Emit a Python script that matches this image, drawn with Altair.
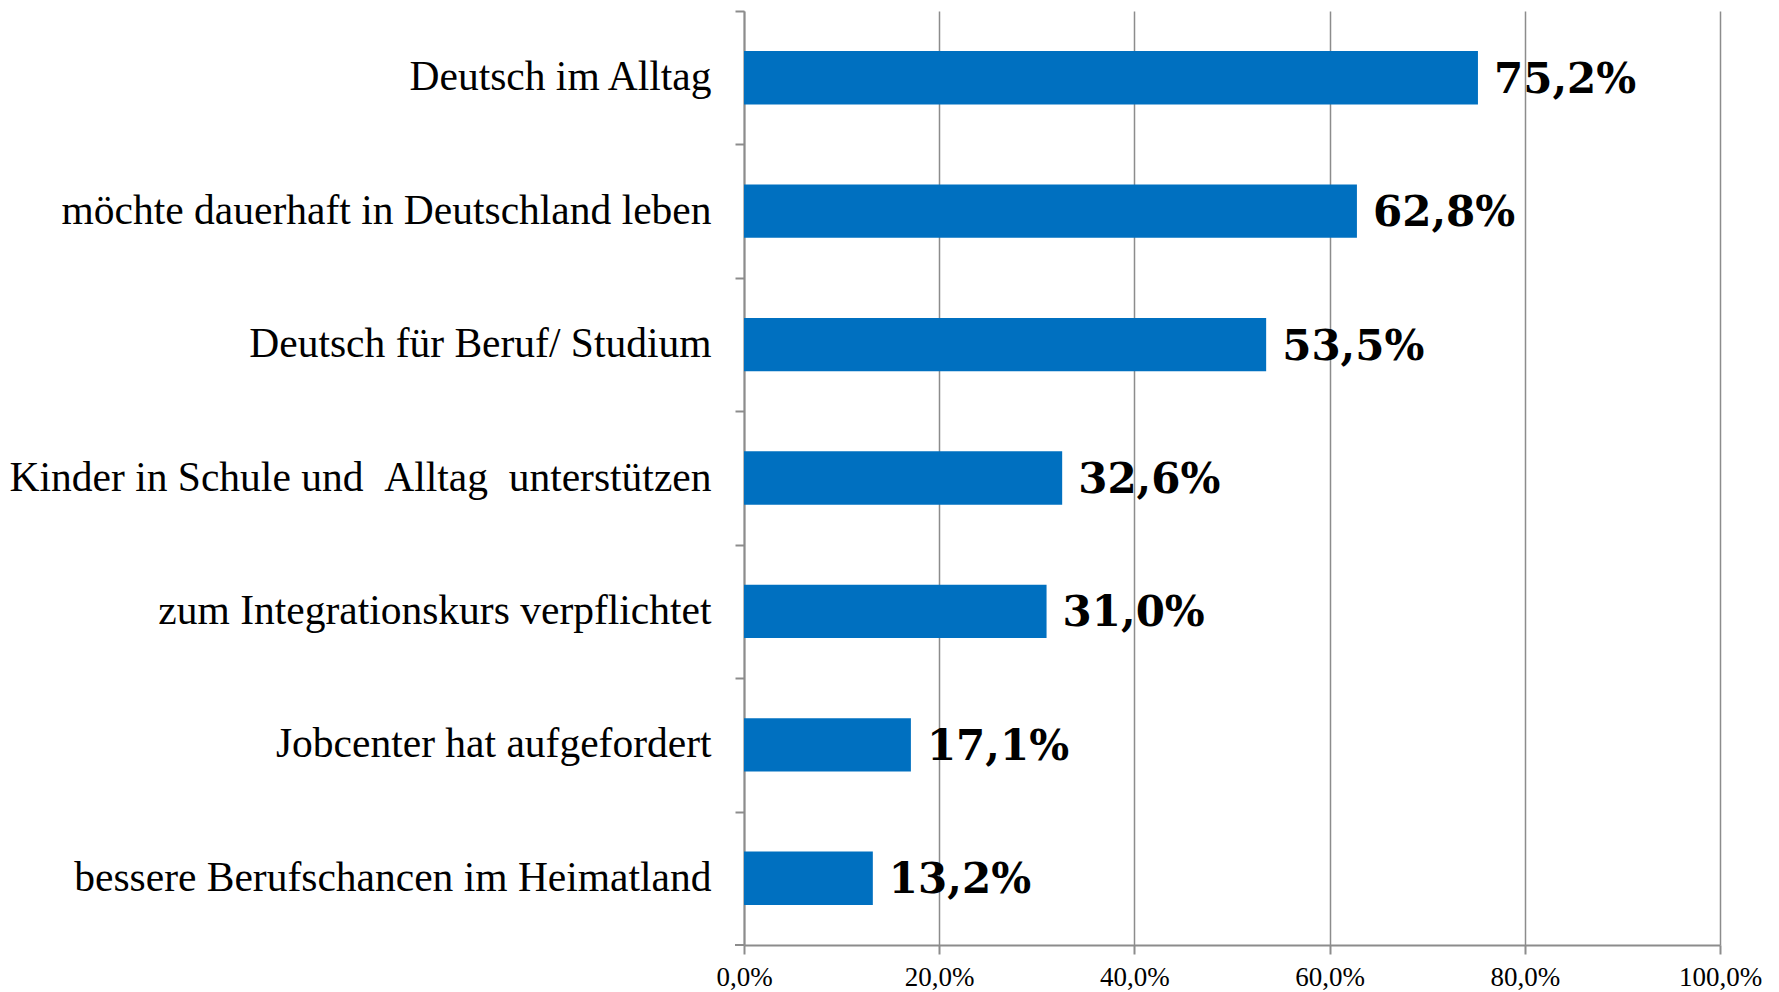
import altair as alt
import pandas as pd

categories = [
    "Deutsch im Alltag\u00a0",
    "möchte dauerhaft in Deutschland leben",
    "Deutsch für Beruf/ Studium",
    "Kinder in Schule und \u00a0Alltag \u00a0unterstützen\u00a0",
    "zum Integrationskurs verpflichtet",
    "Jobcenter hat aufgefordert\u00a0",
    "bessere Berufschancen im Heimatland\u00a0",
]
values = [75.2, 62.8, 53.5, 32.6, 31.0, 17.1, 13.2]
value_labels = ["75,2%", "62,8%", "53,5%", "32,6%", "31,0%", "17,1%", "13,2%"]
x_ticks = [0, 20, 40, 60, 80, 100]

df = pd.DataFrame({"cat": categories, "val": values, "lab": value_labels})

W, H = 976, 934
STEP = H / len(categories)
GRID = "#8c8c8c"

y_enc = alt.Y(
    "cat:N",
    sort=categories,
    scale=alt.Scale(paddingInner=0.6, paddingOuter=0.3),
    axis=alt.Axis(
        title=None,
        tickOffset=-STEP / 2,
        labelOffset=STEP / 2,
        tickSize=9,
        tickColor=GRID,
        tickWidth=2,
        domainColor=GRID,
        domainWidth=2,
        labelFont="Liberation Serif",
        labelFontSize=41.5,
        labelColor="#000000",
        labelPadding=24,
        labelLimit=0,
        grid=False,
    ),
)

x_enc = alt.X(
    "val:Q",
    scale=alt.Scale(domain=[0, 100], nice=False),
    axis=alt.Axis(
        title=None,
        values=x_ticks,
        labelExpr="replace(format(datum.value, '.1f'), '.', ',') + '%'",
        labelFont="Liberation Serif",
        labelFontSize=27,
        labelColor="#000000",
        labelPadding=10,
        labelFlush=False,
        tickSize=9,
        tickColor=GRID,
        tickWidth=2,
        domainColor=GRID,
        domainWidth=2,
        grid=True,
        gridColor=GRID,
        gridWidth=1.5,
    ),
)

bars = alt.Chart(df).mark_bar(color="#0070C0").encode(x=x_enc, y=y_enc)

text = alt.Chart(df).mark_text(
    align="left",
    baseline="middle",
    dx=16,
    dy=2,
    font="DejaVu Serif",
    fontWeight="bold",
    fontSize=42,
    color="#000000",
).encode(
    x=alt.X("val:Q"),
    y=alt.Y("cat:N", sort=categories),
    text="lab:N",
)

# bottom category-boundary tick of the y axis
bottom_tick = alt.Chart(df.head(1)).mark_rule(color=GRID, strokeWidth=2).encode(
    x=alt.value(-9), x2=alt.value(0), y=alt.value(H)
)

chart = (
    alt.layer(bars, text, bottom_tick)
    .properties(
        width=W,
        height=H,
        background="#ffffff",
        autosize=alt.AutoSizeParams(type="none"),
        padding={"left": 736, "top": 3, "right": 50, "bottom": 50},
    )
    .configure_view(stroke=None, strokeWidth=0)
)

chart.save("out.html", embed_options={"renderer": "svg", "actions": False})
